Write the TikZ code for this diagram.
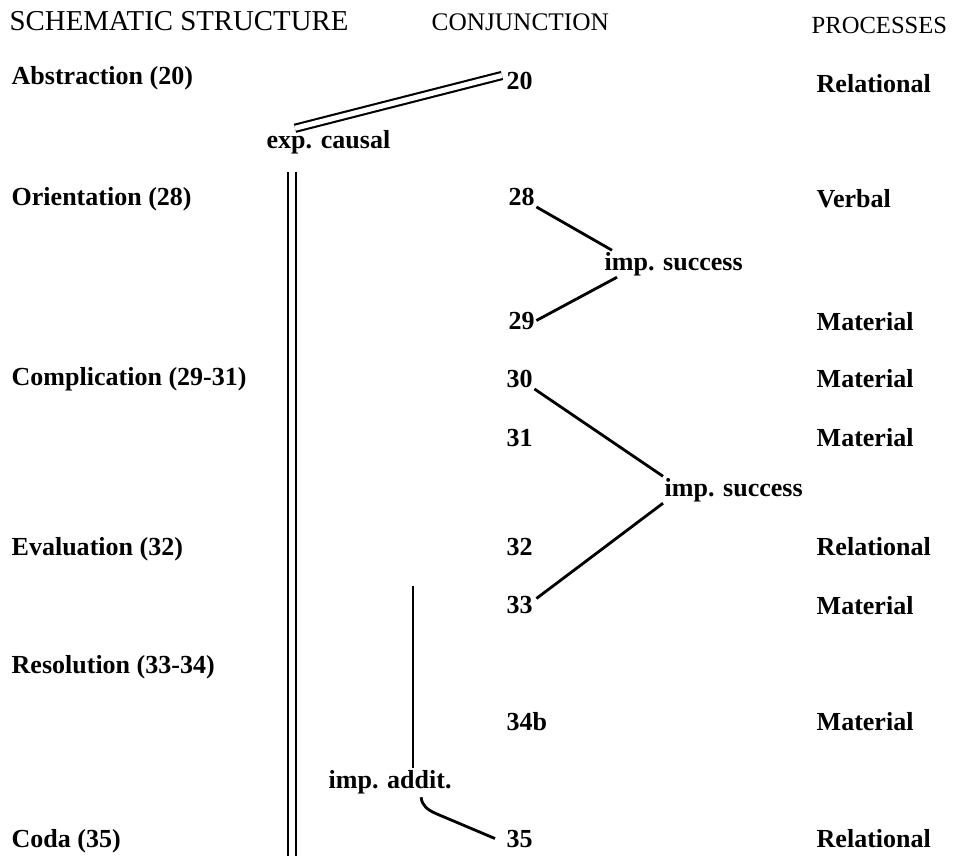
\documentclass[tikz,border=0pt]{standalone}
\usepackage{fontspec}
\setmainfont{Liberation Serif}
\usetikzlibrary{positioning, calc}

\begin{document}
\begin{tikzpicture}[
    x=0.025cm, y=-0.025cm,
    txt/.style={anchor=base west, inner sep=1pt, font=\fontsize{18.5}{22}\selectfont\bfseries},
    head/.style={txt, font=\fontsize{18.5}{22}\selectfont},
    conn/.style={line width=2pt, draw=black},
    dbl/.style={double, double distance=3.6pt, line width=1.5pt, draw=black}
  ]
  \useasboundingbox (0,0) rectangle (961,856);

  % column heads
  \node[head, font=\fontsize{20.5}{24}\selectfont] (hschema) at (8,30) {SCHEMATIC STRUCTURE};
  \node[head, font=\fontsize{18}{22}\selectfont] (hconj) at (430,30) {CONJUNCTION};
  \node[head, font=\fontsize{17.5}{22}\selectfont] (hproc) at (810,33) {PROCESSES};

  % schematic structure
  \node[txt] (abs) at (10,84) {Abstraction (20)};
  \node[txt] (ori) at (10,205) {Orientation (28)};
  \node[txt] (comp) at (10,385) {Complication (29-31)};
  \node[txt] (eval) at (10,555) {Evaluation (32)};
  \node[txt] (reso) at (10,673) {Resolution (33-34)};
  \node[txt] (coda) at (10,847) {Coda (35)};

  % conjunction
  \node[txt] (n20) at (505,89) {20};
  \node[txt] (n28) at (507,205) {28};
  \node[txt] (n29) at (507,329) {29};
  \node[txt] (n30) at (505,387) {30};
  \node[txt] (n31) at (505,446) {31};
  \node[txt] (n32) at (505,555) {32};
  \node[txt] (n33) at (505,613) {33};
  \node[txt] (n34b) at (505,730) {34b};
  \node[txt] (n35) at (505,847) {35};

  % processes
  \node[txt] (p20) at (815,92) {Relational};
  \node[txt] (p28) at (815,207) {Verbal};
  \node[txt] (p29) at (815,330) {Material};
  \node[txt] (p30) at (815,387) {Material};
  \node[txt] (p31) at (815,446) {Material};
  \node[txt] (p32) at (815,555) {Relational};
  \node[txt] (p33) at (815,614) {Material};
  \node[txt] (p34b) at (815,730) {Material};
  \node[txt] (p35) at (815,847) {Relational};

  % relations
  \node[txt] (causal) at (265,148) {exp. causal};
  \node[txt] (succA) at (603,270) {imp. success};
  \node[txt] (succB) at (663,496) {imp. success};
  \node[txt] (addit) at (327,788) {imp. addit.};

  \coordinate (vtop) at (292,172);
  \coordinate (vbot) at (292,856);
  \coordinate (atop) at (413,586);

  \draw[dbl] ($(n20.west)+(-3,-5)$) -- ($(causal.north west)+(30,0)$);
  \draw[dbl] (vtop) -- (vbot);
  \draw[conn] (n28.south east) -- ($(succA.north west)+(9,0)$);
  \draw[conn] ($(succA.south west)+(14,0)$) -- (n29.east);
  \draw[conn] (n30.south east) -- (succB.north west);
  \draw[conn] (succB.south west) -- ($(n33.east)+(2,-6)$);
  \draw[conn] (atop) -- (atop |- addit.north);
  \draw[conn] ($(addit.south)+(31,2)$) to[out=-85, in=155] ++(14,16) -- ($(n35.west)+(-10,0)$);
\end{tikzpicture}
\end{document}
